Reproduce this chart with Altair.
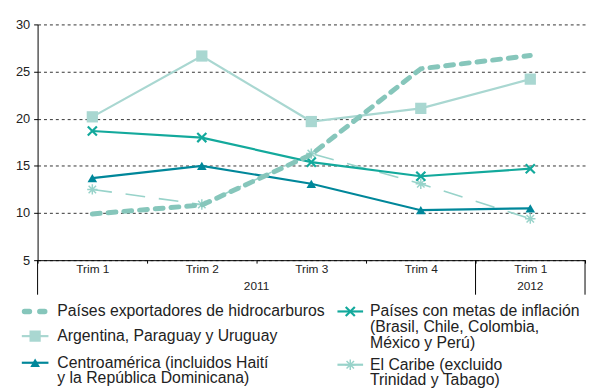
import altair as alt
import pandas as pd

# ---------------- data ----------------
periods = ["2011-T1", "2011-T2", "2011-T3", "2011-T4", "2012-T1"]
quarter_labels = ["Trim 1", "Trim 2", "Trim 3", "Trim 4", "Trim 1"]
year_labels = ["2011", "2012"]
year_anchor = ["2011-T3", "2012-T1"]  # 2011 centred on T1..T4, 2012 on its band

series_names = [
    "Países exportadores de hidrocarburos",
    "Argentina, Paraguay y Uruguay",
    "Centroamérica (incluidos Haití y la República Dominicana)",
    "Países con metas de inflación (Brasil, Chile, Colombia, México y Perú)",
    "El Caribe (excluido Trinidad y Tabago)",
]
legend_lines = [
    ["Países exportadores de hidrocarburos"],
    ["Argentina, Paraguay y Uruguay"],
    ["Centroamérica (incluidos Haití", "y la República Dominicana)"],
    ["Países con metas de inflación", "(Brasil, Chile, Colombia,", "México y Perú)"],
    ["El Caribe (excluido", "Trinidad y Tabago)"],
]
hidrocarburos = [9.9, 10.85, 16.2, 25.3, 26.7]
argentina = [20.2, 26.65, 19.7, 21.1, 24.2]
centroamerica = [13.7, 15.0, 13.1, 10.3, 10.5]
metas = [18.7, 18.0, 15.4, 13.9, 14.7]
caribe = [12.5, 10.9, 16.3, 13.1, 9.4]
series_values = [hidrocarburos, argentina, centroamerica, metas, caribe]

y_ticks = [5, 10, 15, 20, 25, 30]

# ---------------- styles / layout ----------------
FONT = "Liberation Sans"
W, H = 555, 239
X_PATH = "M-1,-1L1,1M-1,1L1,-1"
AST_PATH = "M-1,0L1,0M0,-1L0,1M-0.72,-0.72L0.72,0.72M-0.72,0.72L0.72,-0.72"
styles = [
    dict(color="#86c6bb", width=5, dash=[8, 8], shape=None),
    dict(color="#a9d7d1", width=2.2, dash=None, shape="square", size=130, filled=True, pw=0),
    dict(color="#00879a", width=2.2, dash=None, shape="triangle-up", size=95, filled=True, pw=0),
    dict(color="#13a99c", width=2.2, dash=None, shape=X_PATH, size=85, filled=False, pw=2.2),
    dict(color="#98d3ca", width=1.6, dash=[20, 14], shape=AST_PATH, size=110, filled=False, pw=1.5),
]
draw_order = [1, 4, 2, 3, 0]
# legend layout: (symbol x0, symbol x1, text x, first line y) in plot coordinates
legend_pos = [
    (-16, 11, 20, 291),
    (-16, 11, 20, 316),
    (-16, 11, 20, 343),
    (304, 330, 337, 291),
    (304, 330, 337, 345),
]
LINE_H = 16

rows = []
for name, vals in zip(series_names, series_values):
    for p, v in zip(periods, vals):
        rows.append({"serie": name, "period": p, "value": v})
df = pd.DataFrame(rows)

label_map = "{" + ",".join(f"'{p}':'{l}'" for p, l in zip(periods, quarter_labels)) + "}"
xscale = alt.Scale(type="band", domain=periods, paddingInner=0, paddingOuter=0)
yscale = alt.Scale(domain=[5, 30], nice=False, zero=False)

x_axis = alt.Axis(
    title=None, labelExpr=f"{label_map}[datum.value]", tickBand="extent",
    tickSize=3, labelPadding=1, labelFontSize=12, labelFont=FONT, labelColor="#222",
    domainColor="#000", tickColor="#000", labelAngle=0, grid=False,
)
y_axis = alt.Axis(
    title=None, values=y_ticks, grid=True, gridDash=[3, 3], gridColor="#000",
    gridWidth=0.8, domainColor="#000", tickColor="#000", tickSize=4,
    labelPadding=4, labelFontSize=13, labelFont=FONT, labelColor="#222",
)


def X(bp=None):
    kw = dict(scale=xscale, axis=x_axis, title=None)
    if bp is not None:
        kw["bandPosition"] = bp
    return alt.X("period:N", **kw)


def Y():
    return alt.Y("value:Q", scale=yscale, axis=y_axis, title=None)


def point_kw(st):
    pkw = dict(shape=st["shape"], size=st["size"], filled=st["filled"], opacity=1)
    if st["filled"]:
        pkw["fill"] = st["color"]
    else:
        pkw["stroke"] = st["color"]
        pkw["strokeWidth"] = st["pw"]
    return pkw


layers = []
for i in draw_order:
    st = styles[i]
    sub = alt.Chart(df).transform_filter(alt.datum.serie == series_names[i])
    lkw = dict(color=st["color"], strokeWidth=st["width"], strokeCap="round" if i == 0 else "butt")
    if st["dash"]:
        lkw["strokeDash"] = st["dash"]
    layers.append(sub.mark_line(**lkw).encode(x=X(), y=Y()))
    if st["shape"]:
        layers.append(sub.mark_point(**point_kw(st)).encode(x=X(), y=Y()))

# year labels on the second axis row
for yl, anchor, bp in zip(year_labels, year_anchor, [0, 0.5]):
    layers.append(
        alt.Chart(pd.DataFrame({"period": [anchor], "txt": [yl]}))
        .mark_text(font=FONT, fontSize=12, color="#222", baseline="middle", align="center")
        .encode(x=X(bp), y=alt.value(265), text="txt:N")
    )

# long separators of the period table
for anchor, bp in [(periods[0], 0), (periods[-1], 0), (periods[-1], 1)]:
    layers.append(
        alt.Chart(pd.DataFrame({"period": [anchor]}))
        .mark_rule(color="#000", strokeWidth=1)
        .encode(x=X(bp), y=alt.value(H), y2=alt.value(H + 35))
    )

# legend
one = pd.DataFrame({"k": [0]})
for i in range(len(series_names)):
    st = styles[i]
    x0, x1, tx, ty = legend_pos[i]
    if i == 0:
        layers.append(alt.Chart(one).mark_rule(
            color=st["color"], strokeWidth=5.5, strokeDash=[5, 10.5], strokeCap="round"
        ).encode(x=alt.value(x0 + 2.75), x2=alt.value(x1 - 3), y=alt.value(ty)))
    else:
        layers.append(alt.Chart(one).mark_rule(color=st["color"], strokeWidth=2.2)
                      .encode(x=alt.value(x0), x2=alt.value(x1), y=alt.value(ty)))
        layers.append(alt.Chart(one).mark_point(**point_kw(st))
                      .encode(x=alt.value((x0 + x1) / 2), y=alt.value(ty)))
    for j, line in enumerate(legend_lines[i]):
        layers.append(alt.Chart(one).mark_text(
            font=FONT, fontSize=16, color="#222", align="left", baseline="middle", text=line
        ).encode(x=alt.value(tx), y=alt.value(ty + LINE_H * j)))

chart = (
    alt.layer(*layers)
    .properties(width=W, height=H, autosize="none",
                padding={"left": 30, "top": 14, "right": 2, "bottom": 131},
                background="white")
    .configure_view(stroke=None)
)

chart.save("out.html", embed_options={"renderer": "svg", "actions": False})
